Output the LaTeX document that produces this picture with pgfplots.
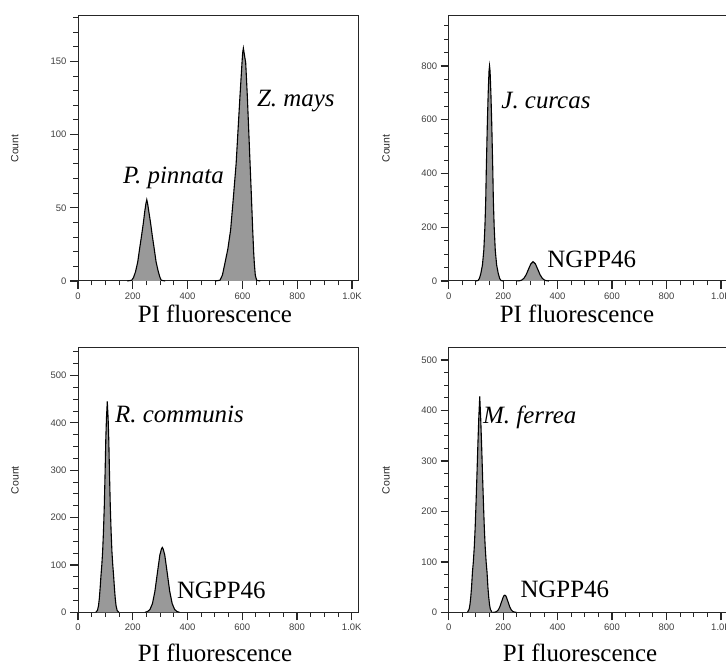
\documentclass[border=0pt]{standalone}
\usepackage{fontspec}
\setmainfont{Liberation Serif}
\setsansfont{Liberation Sans}
\usepackage{pgfplots}
\pgfplotsset{compat=1.18}
\pgfplotsset{
 facs/.style={
  scale only axis, clip=false,
  xmin=0, xmax=1024, ymin=0,
  axis line style={black!85, line width=1bp},
  tick align=outside, xtick pos=bottom, ytick pos=left,
  xtick={0,200,400,600,800,1000},
  xticklabels={0,200,400,600,800,1.0K},
  minor xtick={50,100,...,1000},
  major tick length=8bp, minor tick length=4.5bp,
  major tick style={black!85, line width=1.3bp},
  minor tick style={black!85, line width=0.9bp},
  tick label style={font=\sffamily\fontsize{9.5}{10}\selectfont, text=black!75},
  /pgf/number format/assume math mode=true,
  ylabel={Count},
  ylabel style={font=\sffamily\fontsize{10.5}{11}\selectfont, text=black!85, at={(axis description cs:-0.225,0.5)}, anchor=center},
  xlabel={PI fluorescence},
  xlabel style={font=\fontsize{25}{28}\selectfont, anchor=base},
 },
 peak/.style={draw=black, line width=1.1bp, fill=gray!80},
}
\tikzset{lab/.style={anchor=base west, inner sep=0pt, font=\fontsize{25}{28}\selectfont}}
\begin{document}
\begin{tikzpicture}
\useasboundingbox (0,0) rectangle (726bp,666bp);
% Panel 1
\begin{axis}[facs, at={(78bp,385bp)}, anchor=south west, width=280.6bp, height=265bp,
  ymax=181, ytick={0,50,100,150}, minor ytick={10,20,...,180},
  xlabel style={at={(axis description cs:0.488,-0.158)}}]
\addplot[peak] coordinates {(180,0) (196,0.5) (203,2.5) (210,6.4) (218,13) (226,23.5) (232,31) (238.4,39.5) (244,48) (248,53) (251,55.5) (254,53) (258,48) (265,39.5) (271,31) (277,23.5) (285,13) (293,6.4) (299,2.5) (304,0.5) (318,0)};
\addplot[peak] coordinates {(500,0) (518,0.5) (527,4) (536,12) (547,22) (557,35) (567,57) (577,80) (584,103) (591,126) (598.5,149) (601,156) (603.5,159) (606,156) (612,149) (618,126) (623,103) (628,80) (633,57) (637.5,35) (641,20) (643.5,12) (647,4) (652,0.5) (665,0)};
\node[lab] at (axis cs:164,66.8) {\itshape P. pinnata};
\node[lab] at (axis cs:653,119) {\itshape Z. mays};
\end{axis}
% Panel 2
\begin{axis}[facs, at={(448.7bp,385bp)}, anchor=south west, width=278.8bp, height=265bp,
  ymax=986, ytick={0,200,400,600,800}, minor ytick={50,100,...,950},
  xlabel style={at={(axis description cs:0.46,-0.158)}}]
\addplot[peak] coordinates {(100,0) (108,2) (113,10) (118,28) (124,60) (129,115) (133,202) (136,300) (138,410) (140,500) (142,590) (145,697) (148,780) (150,800) (152,780) (155,697) (158,590) (160,500) (162,410) (164,300) (167,202) (171,115) (176,60) (182,28) (187,10) (192,2) (200,0)};
\addplot[peak] coordinates {(252,0) (259,0.8) (267.5,3) (276,9.7) (284.5,23.4) (293,43.7) (301.5,63.5) (310,72) (318.5,63.5) (327,43.7) (335.5,23.4) (344,9.7) (352.5,3) (361,0.8) (368,0)};
\node[lab] at (axis cs:193,643) {\itshape J. curcas};
\node[lab] at (axis cs:362,52) {NGPP46};
\end{axis}
% Panel 3
\begin{axis}[facs, at={(78bp,53.7bp)}, anchor=south west, width=280.3bp, height=264.3bp,
  ymax=558, ytick={0,100,200,300,400,500}, minor ytick={25,50,...,550},
  xlabel style={at={(axis description cs:0.489,-0.186)}}]
\addplot[peak] coordinates {(65,0) (71,4) (75,14) (78,30) (81,52) (84,78) (87,100) (90,128) (93,170) (96,223) (99,295) (101.5,364) (104,410) (107,445) (110,410) (112.5,364) (115,295) (118,223) (121,170) (124,128) (127,100) (130,78) (133,52) (136,30) (139,14) (143,4) (149,0)};
\addplot[peak] coordinates {(245,0) (254,1.5) (263,6) (272,18.5) (281,44.5) (290,83.1) (299,120.9) (305,134) (308,137) (311,134) (317,120.9) (326,83.1) (335,44.5) (344,18.5) (353,6) (362,1.5) (371,0)};
\node[lab] at (axis cs:135,400) {\itshape R. communis};
\node[lab] at (axis cs:361,30) {NGPP46};
\end{axis}
% Panel 4
\begin{axis}[facs, at={(448.7bp,53.7bp)}, anchor=south west, width=278.8bp, height=264.3bp,
  ymax=524, ytick={0,100,200,300,400,500}, minor ytick={25,50,...,500},
  xlabel style={at={(axis description cs:0.471,-0.186)}}]
\addplot[peak] coordinates {(69,0) (75,6) (78,15) (81,30) (84,50) (87,78) (90.5,100) (94,130) (97,165) (100,210) (103.5,268) (107,330) (110.5,385) (114,428) (117.5,385) (121,330) (124.5,268) (128,210) (131,165) (134,130) (137.5,100) (141,78) (144,50) (147,30) (150,15) (153,6) (159,0)};
\addplot[peak] coordinates {(164,0) (170,0.4) (176,1.5) (182,4.6) (188,11.1) (194,20.6) (200,30) (203,33) (206,34) (209,33) (212,30) (218,20.6) (224,11.1) (230,4.6) (236,1.5) (242,0.4) (248,0)};
\node[lab] at (axis cs:126,374) {\itshape M. ferrea};
\node[lab] at (axis cs:263,28.5) {NGPP46};
\end{axis}
\end{tikzpicture}
\end{document}
